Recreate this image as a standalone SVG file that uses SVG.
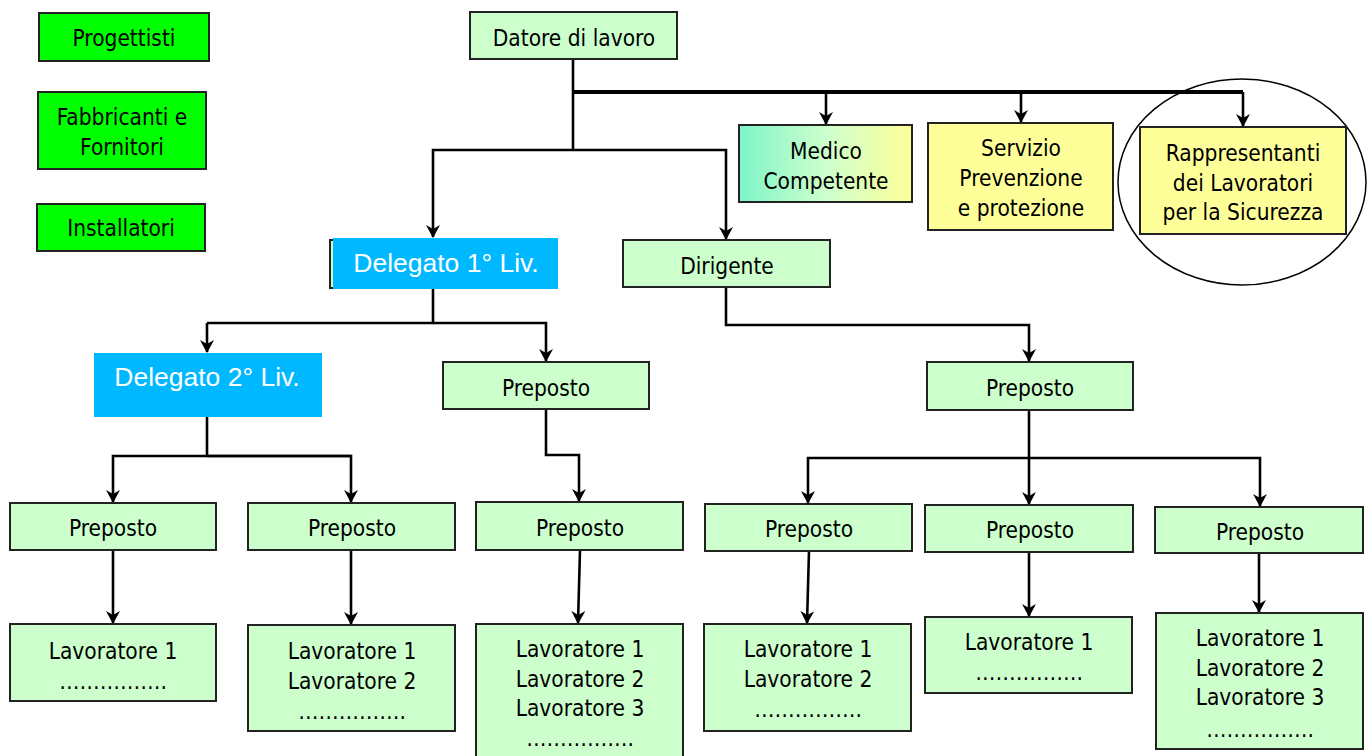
<svg xmlns="http://www.w3.org/2000/svg" width="1372" height="756" viewBox="0 0 1372 756">
<style>
.box{stroke:#222;stroke-width:2}
.g{fill:#ccffcc}
.bg{fill:#00ff00}
.y{fill:#ffff99}
.bl{fill:#00b8ff}
text{font-family:"DejaVu Sans Condensed","DejaVu Sans",sans-serif;font-size:22.5px;fill:#000;text-anchor:middle}
text.w{font-family:"Liberation Sans",Arial,sans-serif;font-size:26.5px;fill:#fff}
.c{fill:none;stroke:#000;stroke-width:2.6}
.ct{fill:none;stroke:#000;stroke-width:4}
.a{marker-end:url(#ah)}
</style>
<defs>
<marker id="ah" markerWidth="14" markerHeight="14" refX="12" refY="7" orient="auto" markerUnits="userSpaceOnUse" viewBox="0 0 14 14">
<path d="M0,0 L13,7 L0,14 L4,7 z" fill="#000"/>
</marker>
<linearGradient id="med" x1="0" y1="0" x2="1" y2="0">
<stop offset="0" stop-color="#7ff5c8"/>
<stop offset="0.5" stop-color="#ccffcc"/>
<stop offset="1" stop-color="#ffff99"/>
</linearGradient>
</defs>
<rect width="1372" height="756" fill="#fff"/>

<g id="connectors">
<path class="c" d="M573,59 V150"/>
<path class="ct" d="M573,92 H1243"/>
<path class="c a" d="M826,92 V124"/>
<path class="c a" d="M1021,92 V122"/>
<path class="c a" d="M1243,92 V126"/>
<path class="c a" d="M573,150 H433 V237"/>
<path class="c a" d="M573,150 H726 V239"/>
<path class="c" d="M433,289 V323 H207"/>
<path class="c a" d="M207,323 V352"/>
<path class="c a" d="M433,323 H546 V361"/>
<path class="c a" d="M726,287 V325 H1029 V361"/>
<path class="c" d="M207,417 V456"/>
<path class="c a" d="M351,456 H113 V502"/>
<path class="c a" d="M207,456 H351 V502"/>
<path class="c a" d="M546,409 V455 H579 V501"/>
<path class="c" d="M1029,410 V458"/>
<path class="c a" d="M1029,458 H808 V503"/>
<path class="c a" d="M1029,458 V504"/>
<path class="c a" d="M1029,458 H1260 V506"/>
<path class="c a" d="M113,550 V623"/>
<path class="c a" d="M351,550 V624"/>
<path class="c a" d="M580,550 L578,623"/>
<path class="c a" d="M809,551 L807,623"/>
<path class="c a" d="M1029,552 V616"/>
<path class="c a" d="M1259,553 V612"/>
</g>

<g id="progettisti"><rect class="box bg" x="39" y="13" width="170" height="48"/><text x="124" y="46">Progettisti</text></g>
<g id="fabbricanti"><rect class="box bg" x="38" y="92" width="168" height="77"/><text x="122" y="125">Fabbricanti e</text><text x="122" y="155">Fornitori</text></g>
<g id="installatori"><rect class="box bg" x="37" y="204" width="168" height="47"/><text x="121" y="236">Installatori</text></g>

<g id="datore"><rect class="box g" x="470" y="12" width="207" height="47"/><text x="574" y="46">Datore di lavoro</text></g>
<g id="medico"><rect class="box" fill="url(#med)" x="739" y="125" width="173" height="77"/><text x="826" y="159">Medico</text><text x="826" y="189">Competente</text></g>
<g id="servizio"><rect class="box y" x="928" y="123" width="185" height="107"/><text x="1021" y="156">Servizio</text><text x="1021" y="186">Prevenzione</text><text x="1021" y="216">e protezione</text></g>
<g id="rls"><ellipse cx="1242" cy="182" rx="124" ry="103" fill="none" stroke="#000" stroke-width="1.5"/><rect class="box y" x="1140" y="127" width="206" height="107"/><text x="1243" y="161">Rappresentanti</text><text x="1243" y="191">dei Lavoratori</text><text x="1243" y="220">per la Sicurezza</text></g>

<g id="delegato1"><rect class="box g" x="330" y="240" width="200" height="48"/><rect class="bl" x="333" y="238" width="225" height="51"/><text class="w" x="446" y="272">Delegato 1° Liv.</text></g>
<g id="dirigente"><rect class="box g" x="623" y="240" width="207" height="47"/><text x="727" y="274">Dirigente</text></g>

<g id="delegato2"><rect class="bl" x="94" y="353" width="228" height="64"/><text class="w" x="207" y="386">Delegato 2° Liv.</text></g>
<g id="preposto-m"><rect class="box g" x="443" y="362" width="206" height="47"/><text x="546" y="396">Preposto</text></g>
<g id="preposto-r"><rect class="box g" x="927" y="362" width="206" height="48"/><text x="1030" y="396">Preposto</text></g>

<g id="preposto-1"><rect class="box g" x="10" y="503" width="206" height="47"/><text x="113" y="536">Preposto</text></g>
<g id="preposto-2"><rect class="box g" x="248" y="503" width="207" height="47"/><text x="352" y="536">Preposto</text></g>
<g id="preposto-3"><rect class="box g" x="476" y="502" width="207" height="48"/><text x="580" y="536">Preposto</text></g>
<g id="preposto-4"><rect class="box g" x="705" y="504" width="207" height="47"/><text x="809" y="537">Preposto</text></g>
<g id="preposto-5"><rect class="box g" x="925" y="505" width="208" height="47"/><text x="1030" y="538">Preposto</text></g>
<g id="preposto-6"><rect class="box g" x="1155" y="507" width="208" height="46"/><text x="1260" y="540">Preposto</text></g>

<g id="lavoratori-1"><rect class="box g" x="10" y="624" width="206" height="77"/><text x="113" y="659">Lavoratore 1</text><text x="113" y="689">…………….</text></g>
<g id="lavoratori-2"><rect class="box g" x="248" y="625" width="207" height="106"/><text x="352" y="659">Lavoratore 1</text><text x="352" y="689">Lavoratore 2</text><text x="352" y="719">…………….</text></g>
<g id="lavoratori-3"><rect class="box g" x="476" y="624" width="207" height="140"/><text x="580" y="657">Lavoratore 1</text><text x="580" y="687">Lavoratore 2</text><text x="580" y="716">Lavoratore 3</text><text x="580" y="746">…………….</text></g>
<g id="lavoratori-4"><rect class="box g" x="704" y="624" width="207" height="107"/><text x="808" y="657">Lavoratore 1</text><text x="808" y="687">Lavoratore 2</text><text x="808" y="717">…………….</text></g>
<g id="lavoratori-5"><rect class="box g" x="925" y="617" width="207" height="76"/><text x="1029" y="650">Lavoratore 1</text><text x="1029" y="680">…………….</text></g>
<g id="lavoratori-6"><rect class="box g" x="1156" y="613" width="207" height="136"/><text x="1260" y="646">Lavoratore 1</text><text x="1260" y="676">Lavoratore 2</text><text x="1260" y="705">Lavoratore 3</text><text x="1260" y="737">…………….</text></g>
</svg>
